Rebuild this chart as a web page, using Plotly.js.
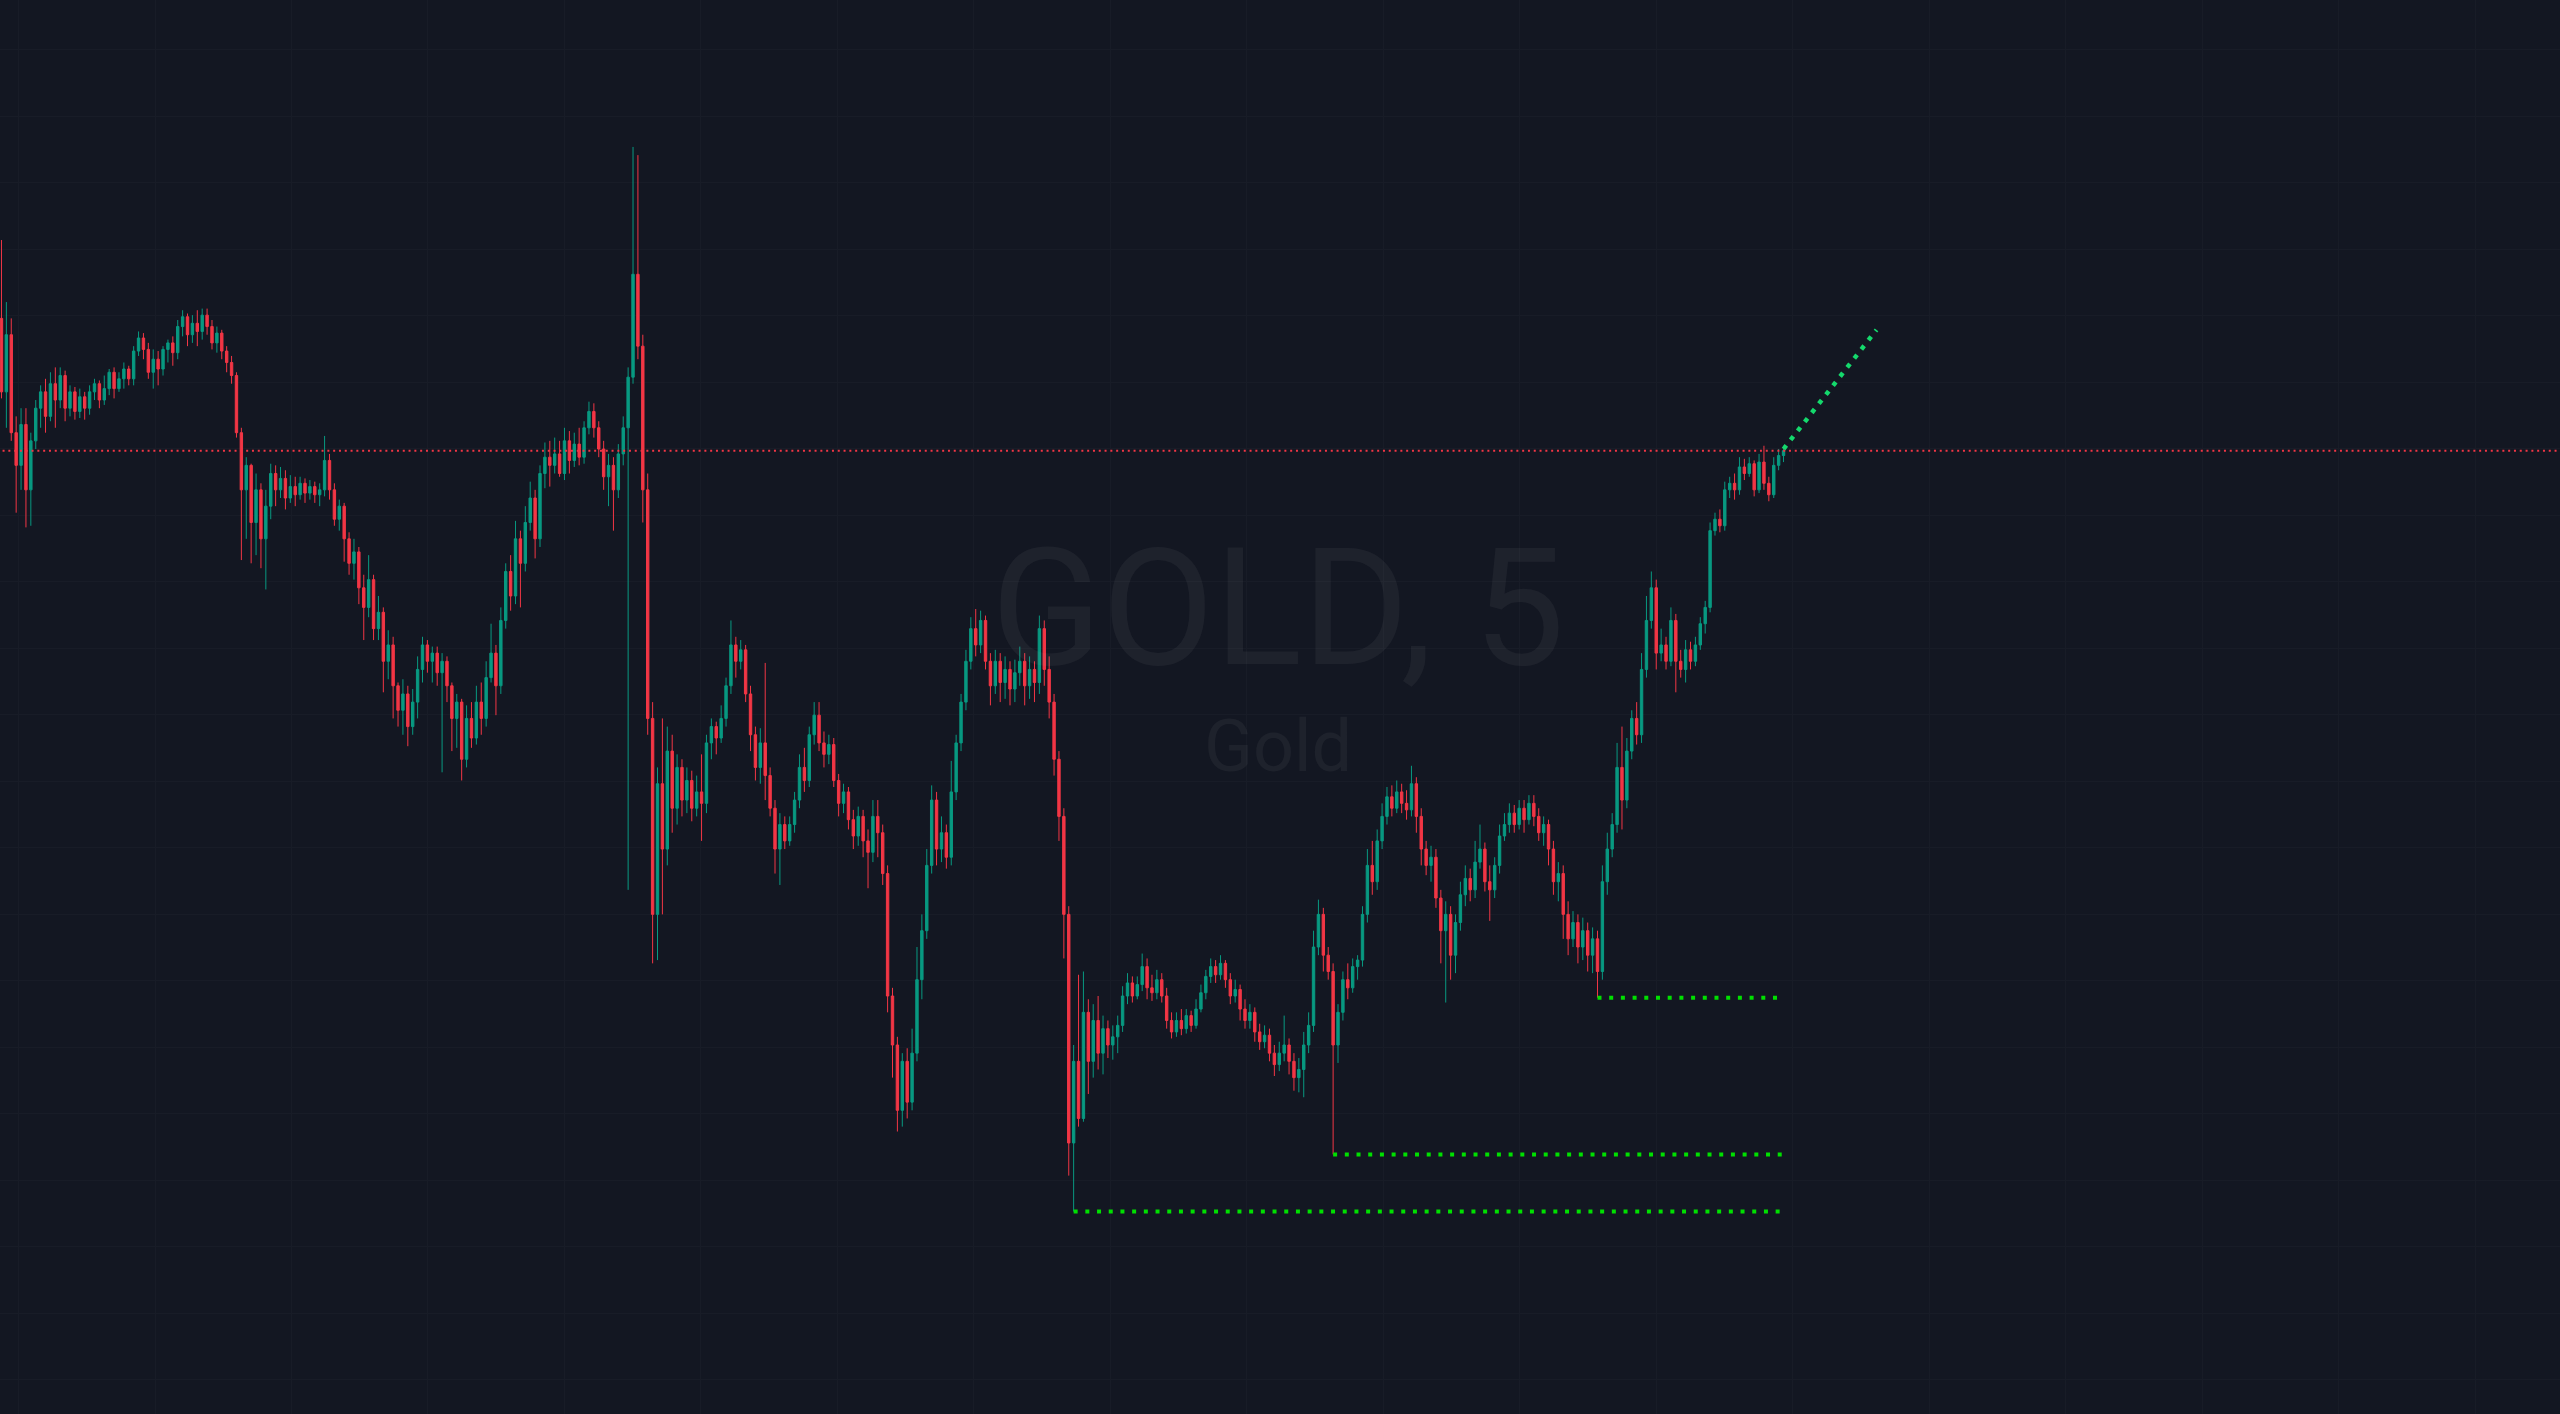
<!DOCTYPE html>
<html>
<head>
<meta charset="utf-8">
<script src="https://cdn.plot.ly/plotly-3.0.1.min.js"></script>
<style>
html,body{margin:0;padding:0;background:#131722;overflow:hidden;}
#chart{width:2560px;height:1414px;}
</style>
</head>
<body>
<div id="chart"></div>
<script>
// GOLD, 5-minute candles (price units)
const openP = [
2380.5,2376.0,2379.5,2373.5,2371.5,2374.0,2370.0,2373.0,2375.0,2376.0,
2374.5,2376.5,2375.5,2377.0,2375.0,2376.0,2374.8,2375.7,2375.0,2376.0,
2376.5,2375.5,2376.2,2377.2,2376.2,2376.8,2377.4,2376.8,2378.5,2379.3,
2378.6,2377.2,2378.0,2377.4,2378.6,2379.0,2378.4,2380.0,2380.6,2379.5,
2380.2,2379.7,2380.7,2380.0,2379.0,2379.6,2378.5,2377.8,2377.0,2373.5,
2370.0,2371.5,2368.0,2370.0,2367.0,2369.0,2371.0,2370.0,2370.7,2369.5,
2370.2,2369.7,2370.4,2369.8,2370.2,2369.7,2370.0,2371.8,2370.0,2368.2,
2369.0,2367.0,2365.5,2366.2,2364.0,2362.8,2364.5,2361.5,2362.5,2359.5,
2360.5,2358.0,2356.5,2357.5,2355.5,2357.0,2359.0,2360.5,2359.5,2360.0,
2358.8,2359.5,2358.0,2356.0,2357.0,2353.5,2356.0,2354.8,2357.0,2356.0,
2358.5,2360.0,2358.0,2362.0,2365.0,2363.5,2367.0,2365.5,2368.0,2369.5,
2367.0,2371.0,2372.0,2371.5,2372.2,2371.0,2373.0,2371.8,2372.8,2372.0,
2373.8,2374.8,2373.8,2372.5,2370.8,2371.5,2370.0,2372.2,2373.8,2376.9,
2383.2,2378.8,2370.0,2356.0,2344.0,2352.0,2348.0,2354.0,2350.5,2353.0,
2351.0,2352.2,2350.5,2351.5,2350.8,2354.5,2355.5,2354.8,2356.0,2358.0,
2360.5,2359.5,2360.2,2357.5,2355.0,2353.0,2354.5,2352.5,2350.5,2348.0,
2349.5,2348.5,2349.5,2351.0,2353.0,2352.2,2355.0,2356.2,2354.5,2353.8,
2354.4,2352.2,2350.8,2351.5,2349.8,2348.8,2350.0,2348.5,2347.8,2350.0,
2349.0,2346.5,2339.0,2336.0,2332.0,2335.0,2332.5,2335.5,2340.0,2343.0,
2347.0,2351.0,2348.0,2349.0,2347.5,2351.5,2354.5,2357.0,2359.5,2361.5,
2360.5,2362.0,2359.5,2358.0,2359.5,2358.2,2359.0,2357.8,2358.8,2359.5,
2358.0,2359.0,2358.2,2361.5,2359.0,2357.0,2353.5,2350.0,2344.0,2330.0,
2335.0,2331.5,2338.0,2335.0,2337.5,2335.5,2337.0,2336.0,2336.5,2337.2,
2339.0,2339.8,2339.0,2339.7,2340.8,2339.5,2339.2,2340.0,2339.0,2337.5,
2336.8,2337.5,2337.0,2337.8,2337.2,2338.2,2339.2,2340.2,2340.8,2340.3,
2341.0,2340.0,2339.0,2339.4,2338.2,2337.5,2338.0,2336.8,2336.2,2336.6,
2335.5,2334.8,2335.5,2336.0,2335.0,2334.0,2334.5,2336.0,2337.2,2342.0,
2344.0,2341.5,2340.5,2336.0,2338.0,2340.0,2339.5,2340.8,2341.2,2344.0,
2347.0,2346.0,2348.5,2350.0,2351.2,2350.5,2351.5,2350.8,2350.4,2352.0,
2350.0,2348.0,2347.0,2347.5,2345.0,2343.0,2344.0,2341.5,2343.5,2345.2,
2346.2,2345.5,2347.2,2348.0,2346.0,2345.5,2347.0,2348.8,2349.5,2350.2,
2349.5,2350.5,2349.8,2350.8,2350.0,2349.0,2349.5,2348.0,2346.0,2346.5,
2344.0,2342.5,2343.5,2342.0,2343.0,2341.5,2342.5,2340.5,2346.0,2348.0,
2349.5,2353.0,2351.0,2354.0,2356.0,2355.0,2359.0,2362.0,2364.0,2360.0,
2360.5,2359.5,2362.0,2359.5,2359.0,2360.2,2359.5,2360.5,2361.8,2362.8,
2367.5,2368.2,2367.8,2370.0,2370.4,2370.0,2371.4,2371.0,2371.6,2370.0,
2371.7,2370.4,2369.7,2371.5,2372.1
];
const highP = [
2385.3,2381.5,2380.5,2374.5,2375.0,2375.0,2373.5,2375.5,2376.4,2376.8,
2377.2,2377.5,2377.5,2377.3,2376.4,2376.3,2376.2,2376.0,2376.4,2376.8,
2376.7,2377.0,2377.4,2377.5,2377.2,2377.8,2377.6,2378.8,2379.7,2379.6,
2379.0,2378.6,2378.5,2378.8,2379.2,2379.4,2380.4,2381.0,2380.8,2380.7,
2381.0,2381.1,2381.1,2380.4,2380.0,2379.8,2378.8,2378.2,2377.2,2373.8,
2372.0,2371.6,2371.0,2370.4,2370.0,2371.6,2371.5,2371.4,2371.2,2370.9,
2370.8,2370.8,2370.7,2370.6,2370.5,2370.4,2373.3,2372.2,2370.4,2369.4,
2369.2,2367.4,2367.0,2366.5,2364.8,2366.0,2364.8,2363.5,2362.8,2361.4,
2361.0,2358.2,2358.4,2358.0,2357.8,2359.8,2361.0,2360.8,2360.4,2360.4,
2360.0,2359.8,2358.2,2357.5,2357.2,2356.8,2357.0,2358.0,2358.2,2359.5,
2361.8,2360.5,2362.8,2365.5,2366.0,2368.1,2367.5,2369.0,2370.5,2370.0,
2371.5,2372.9,2373.0,2373.2,2373.0,2373.8,2373.6,2373.5,2373.8,2374.2,
2375.4,2375.3,2374.2,2373.0,2372.2,2372.0,2372.8,2374.5,2377.5,2391.0,
2390.5,2379.5,2371.0,2357.0,2353.0,2356.0,2355.5,2355.0,2353.8,2353.5,
2353.0,2352.8,2352.5,2353.8,2355.0,2356.0,2355.8,2356.8,2358.5,2362.0,
2361.0,2360.8,2360.5,2358.0,2355.5,2355.4,2359.4,2353.0,2351.0,2350.2,
2350.0,2350.0,2351.5,2353.8,2354.2,2355.5,2357.0,2357.0,2355.2,2355.0,
2354.8,2352.6,2352.0,2351.8,2350.4,2350.6,2350.4,2349.2,2351.0,2351.0,
2349.5,2347.0,2339.5,2336.5,2335.5,2335.8,2337.0,2342.0,2344.0,2348.0,
2351.9,2351.5,2350.0,2349.5,2353.4,2355.0,2357.5,2360.2,2362.2,2362.7,
2362.6,2362.3,2360.0,2360.2,2360.0,2359.8,2359.5,2359.6,2360.4,2360.0,
2359.8,2359.5,2362.3,2362.0,2359.8,2357.5,2354.0,2350.5,2344.5,2336.0,
2340.3,2340.5,2338.8,2338.5,2339.0,2337.8,2337.5,2337.2,2337.8,2339.6,
2340.4,2340.2,2340.2,2341.6,2341.3,2340.3,2340.6,2340.4,2339.5,2338.0,
2338.0,2338.2,2338.2,2338.1,2338.8,2339.7,2340.6,2341.3,2341.2,2341.5,
2341.2,2340.4,2340.0,2339.7,2338.8,2338.5,2338.3,2337.3,2337.2,2337.0,
2336.0,2336.2,2337.8,2336.4,2335.5,2335.2,2336.8,2338.0,2343.0,2344.9,
2344.4,2342.0,2341.0,2338.5,2340.5,2341.0,2341.3,2341.5,2344.5,2348.0,
2348.5,2349.2,2350.8,2351.8,2351.9,2352.2,2352.0,2351.6,2353.1,2352.4,
2350.5,2348.5,2348.2,2348.0,2345.5,2344.8,2344.5,2344.0,2346.0,2347.0,
2346.8,2348.5,2349.5,2348.4,2347.0,2347.5,2349.5,2350.2,2350.8,2350.7,
2351.0,2351.0,2351.3,2351.3,2350.5,2350.0,2349.8,2348.5,2347.2,2347.0,
2344.8,2344.2,2344.0,2343.8,2343.5,2343.2,2343.0,2347.0,2349.0,2350.2,
2354.5,2355.5,2354.8,2356.5,2357.0,2360.0,2363.5,2365.0,2364.5,2361.5,
2361.0,2362.8,2362.4,2360.2,2360.8,2360.7,2361.0,2362.2,2363.2,2368.0,
2368.6,2368.8,2370.5,2370.8,2371.0,2372.0,2371.9,2372.0,2371.8,2372.2,
2372.7,2370.8,2372.0,2372.5,2372.7
];
const lowP = [
2375.6,2373.8,2373.0,2368.6,2370.0,2367.7,2367.8,2372.5,2373.8,2373.5,
2374.2,2373.8,2375.0,2374.2,2374.5,2374.3,2374.4,2374.3,2374.6,2375.5,
2375.0,2375.2,2375.8,2375.6,2376.0,2376.2,2376.4,2376.4,2378.2,2378.0,
2376.8,2376.2,2376.4,2377.0,2377.8,2377.6,2378.0,2379.4,2378.8,2379.0,
2378.8,2379.2,2379.5,2378.6,2378.4,2378.0,2377.2,2376.5,2373.2,2365.7,
2367.0,2365.5,2366.0,2365.2,2363.9,2368.2,2369.0,2369.5,2368.8,2369.2,
2369.0,2369.4,2369.2,2369.4,2369.2,2369.0,2369.6,2369.4,2367.8,2367.5,
2365.6,2364.8,2364.5,2363.0,2360.8,2362.2,2360.8,2360.8,2357.6,2358.4,
2356.0,2355.5,2355.0,2354.3,2355.0,2356.0,2358.2,2358.8,2358.2,2358.0,
2352.7,2357.0,2354.0,2354.2,2352.2,2353.0,2354.2,2354.4,2355.0,2355.5,
2358.2,2356.2,2357.5,2361.5,2362.6,2363.0,2362.8,2365.0,2367.5,2365.8,
2366.5,2370.1,2370.2,2371.0,2370.8,2370.6,2371.0,2371.4,2371.5,2371.6,
2373.4,2373.2,2372.0,2370.0,2369.0,2367.5,2369.5,2371.5,2345.5,2376.5,
2378.0,2368.0,2355.0,2341.0,2341.2,2344.0,2347.0,2349.0,2349.5,2350.0,
2350.2,2349.7,2350.0,2348.5,2350.2,2353.5,2353.8,2354.5,2355.5,2357.5,
2358.5,2359.0,2357.0,2354.0,2352.2,2352.0,2351.0,2350.0,2346.5,2345.8,
2348.0,2348.2,2349.0,2350.5,2351.5,2351.8,2354.4,2354.0,2353.0,2353.2,
2351.8,2350.0,2350.2,2349.2,2348.0,2348.2,2347.5,2345.6,2347.2,2347.5,
2345.8,2338.0,2334.0,2330.7,2331.0,2331.5,2332.0,2335.0,2338.8,2342.5,
2346.5,2347.0,2347.2,2346.8,2347.0,2351.0,2354.0,2356.5,2359.0,2359.8,
2360.0,2359.0,2356.8,2357.5,2357.0,2357.2,2356.8,2357.0,2358.0,2356.8,
2357.2,2357.0,2357.5,2358.0,2356.0,2352.5,2348.5,2341.3,2328.0,2325.8,
2331.0,2331.3,2333.0,2334.0,2334.5,2334.2,2335.2,2335.1,2335.5,2336.8,
2338.5,2338.6,2338.8,2339.3,2338.8,2338.7,2338.8,2338.6,2337.0,2336.4,
2336.5,2336.6,2336.7,2336.8,2337.0,2338.0,2338.8,2339.8,2339.8,2340.0,
2339.5,2338.5,2338.6,2337.5,2337.0,2337.0,2336.2,2335.7,2335.8,2335.0,
2334.1,2334.4,2335.0,2334.2,2333.2,2333.1,2332.8,2335.5,2336.8,2341.5,
2340.5,2340.0,2329.3,2334.9,2337.5,2338.8,2339.2,2340.0,2340.8,2343.5,
2345.2,2345.5,2348.0,2349.5,2350.0,2350.2,2350.2,2349.8,2350.0,2349.0,
2347.0,2346.4,2346.0,2344.4,2341.0,2338.6,2340.0,2340.4,2343.0,2344.5,
2344.8,2345.0,2346.8,2345.4,2343.6,2345.0,2346.5,2348.5,2349.0,2349.0,
2349.2,2349.0,2349.5,2349.4,2348.5,2348.2,2347.0,2345.2,2344.8,2342.5,
2341.5,2342.0,2341.0,2341.2,2340.5,2340.4,2338.9,2340.0,2345.2,2347.5,
2349.0,2349.2,2350.5,2353.5,2354.4,2354.5,2358.5,2361.5,2359.0,2359.5,
2359.0,2359.2,2357.6,2358.5,2358.2,2359.0,2359.2,2360.2,2361.2,2362.5,
2367.2,2367.4,2367.5,2369.5,2369.4,2369.7,2370.6,2370.8,2369.6,2369.8,
2370.0,2369.3,2369.5,2371.2,2371.7
];
const closeP = [
2376.0,2379.5,2373.5,2371.5,2374.0,2370.0,2373.0,2375.0,2376.0,2374.5,
2376.5,2375.5,2377.0,2375.0,2376.0,2374.8,2375.7,2375.0,2376.0,2376.5,
2375.5,2376.2,2377.2,2376.2,2376.8,2377.4,2376.8,2378.5,2379.3,2378.6,
2377.2,2378.0,2377.4,2378.6,2379.0,2378.4,2380.0,2380.6,2379.5,2380.2,
2379.7,2380.7,2380.0,2379.0,2379.6,2378.5,2377.8,2377.0,2373.5,2370.0,
2371.5,2368.0,2370.0,2367.0,2369.0,2371.0,2370.0,2370.7,2369.5,2370.2,
2369.7,2370.4,2369.8,2370.2,2369.7,2370.0,2371.8,2370.0,2368.2,2369.0,
2367.0,2365.5,2366.2,2364.0,2362.8,2364.5,2361.5,2362.5,2359.5,2360.5,
2358.0,2356.5,2357.5,2355.5,2357.0,2359.0,2360.5,2359.5,2360.0,2358.8,
2359.5,2358.0,2356.0,2357.0,2353.5,2356.0,2354.8,2357.0,2356.0,2358.5,
2360.0,2358.0,2362.0,2365.0,2363.5,2367.0,2365.5,2368.0,2369.5,2367.0,
2371.0,2372.0,2371.5,2372.2,2371.0,2373.0,2371.8,2372.8,2372.0,2373.8,
2374.8,2373.8,2372.5,2370.8,2371.5,2370.0,2372.2,2373.8,2376.9,2383.2,
2378.8,2370.0,2356.0,2344.0,2352.0,2348.0,2354.0,2350.5,2353.0,2351.0,
2352.2,2350.5,2351.5,2350.8,2354.5,2355.5,2354.8,2356.0,2358.0,2360.5,
2359.5,2360.2,2357.5,2355.0,2353.0,2354.5,2352.5,2350.5,2348.0,2349.5,
2348.5,2349.5,2351.0,2353.0,2352.2,2355.0,2356.2,2354.5,2353.8,2354.4,
2352.2,2350.8,2351.5,2349.8,2348.8,2350.0,2348.5,2347.8,2350.0,2349.0,
2346.5,2339.0,2336.0,2332.0,2335.0,2332.5,2335.5,2340.0,2343.0,2347.0,
2351.0,2348.0,2349.0,2347.5,2351.5,2354.5,2357.0,2359.5,2361.5,2360.5,
2362.0,2359.5,2358.0,2359.5,2358.2,2359.0,2357.8,2358.8,2359.5,2358.0,
2359.0,2358.2,2361.5,2359.0,2357.0,2353.5,2350.0,2344.0,2330.0,2335.0,
2331.5,2338.0,2335.0,2337.5,2335.5,2337.0,2336.0,2336.5,2337.2,2339.0,
2339.8,2339.0,2339.7,2340.8,2339.5,2339.2,2340.0,2339.0,2337.5,2336.8,
2337.5,2337.0,2337.8,2337.2,2338.2,2339.2,2340.2,2340.8,2340.3,2341.0,
2340.0,2339.0,2339.4,2338.2,2337.5,2338.0,2336.8,2336.2,2336.6,2335.5,
2334.8,2335.5,2336.0,2335.0,2334.0,2334.5,2336.0,2337.2,2342.0,2344.0,
2341.5,2340.5,2336.0,2338.0,2340.0,2339.5,2340.8,2341.2,2344.0,2347.0,
2346.0,2348.5,2350.0,2351.2,2350.5,2351.5,2350.8,2350.4,2352.0,2350.0,
2348.0,2347.0,2347.5,2345.0,2343.0,2344.0,2341.5,2343.5,2345.2,2346.2,
2345.5,2347.2,2348.0,2346.0,2345.5,2347.0,2348.8,2349.5,2350.2,2349.5,
2350.5,2349.8,2350.8,2350.0,2349.0,2349.5,2348.0,2346.0,2346.5,2344.0,
2342.5,2343.5,2342.0,2343.0,2341.5,2342.5,2340.5,2346.0,2348.0,2349.5,
2353.0,2351.0,2354.0,2356.0,2355.0,2359.0,2362.0,2364.0,2360.0,2360.5,
2359.5,2362.0,2359.5,2359.0,2360.2,2359.5,2360.5,2361.8,2362.8,2367.5,
2368.2,2367.8,2370.0,2370.4,2370.0,2371.4,2371.0,2371.6,2370.0,2371.7,
2370.4,2369.7,2371.5,2372.1,2372.4
];
// swing-low pivots (bar indices) whose lows are extended to the last bar
const pivotBars = [219, 272, 326];
// projected trend line: [bar index, price]
const projBars = [364, 383];
const projPrices = [2372.5, 2379.8];
const watermarkTitle = "GOLD, 5";
const watermarkSub = "Gold";

const barIdx = closeP.map((_, i) => i);
const lastBar = barIdx[barIdx.length - 1];
const lastPrice = closeP[closeP.length - 1];

const traces = [{
  type: 'candlestick',
  x: barIdx, open: openP, high: highP, low: lowP, close: closeP,
  increasing: {line: {color: '#089981', width: 1}, fillcolor: '#089981'},
  decreasing: {line: {color: '#f23645', width: 1}, fillcolor: '#f23645'},
  whiskerwidth: 0,
  hoverinfo: 'skip',
  showlegend: false
}];
pivotBars.forEach(b => {
  traces.push({
    type: 'scatter', mode: 'lines',
    x: [b, lastBar], y: [lowP[b], lowP[b]],
    line: {color: '#00e000', width: 4, dash: '4px,7.7px'},
    hoverinfo: 'skip', showlegend: false
  });
});
traces.push({
  type: 'scatter', mode: 'lines',
  x: projBars, y: projPrices,
  line: {color: '#14d96c', width: 4.5, dash: '4.5px,7px'},
  hoverinfo: 'skip', showlegend: false
});

const layout = {
  width: 2560, height: 1414,
  margin: {l: 0, r: 0, t: 0, b: 0, pad: 0},
  paper_bgcolor: '#131722', plot_bgcolor: '#131722',
  showlegend: false, hovermode: false,
  boxgap: 0.3, boxgroupgap: 0.3,
  xaxis: {
    range: [-0.3, 522.6], rangeslider: {visible: false},
    showticklabels: false, ticks: '', zeroline: false, showline: false,
    showgrid: true, gridcolor: '#181c27', gridwidth: 1,
    tickmode: 'linear', tick0: 31.36, dtick: 27.88
  },
  yaxis: {
    range: [2313.4, 2400.0],
    showticklabels: false, ticks: '', zeroline: false, showline: false,
    showgrid: true, gridcolor: '#181c27', gridwidth: 1,
    tickmode: 'linear', tick0: 2388.82, dtick: 4.0727
  },
  shapes: [{
    type: 'line', xref: 'paper', yref: 'y', x0: 0.001, x1: 1, y0: lastPrice, y1: lastPrice,
    line: {color: '#f23645', width: 2, dash: '2px,3.8px'}, layer: 'above'
  }],
  annotations: [
    {text: watermarkTitle, xref: 'paper', yref: 'paper', x: 0.4992, y: 0.5700,
     xanchor: 'center', yanchor: 'middle', showarrow: false,
     font: {family: 'Roboto, Liberation Sans, sans-serif', size: 163, color: 'rgba(178,181,190,0.07)'}},
    {text: watermarkSub, xref: 'paper', yref: 'paper', x: 0.4992, y: 0.4722,
     xanchor: 'center', yanchor: 'middle', showarrow: false,
     font: {family: 'Roboto, Liberation Sans, sans-serif', size: 72, color: 'rgba(178,181,190,0.07)'}}
  ]
};

Plotly.newPlot('chart', traces, layout, {staticPlot: true, displayModeBar: false});
</script>
</body>
</html>
